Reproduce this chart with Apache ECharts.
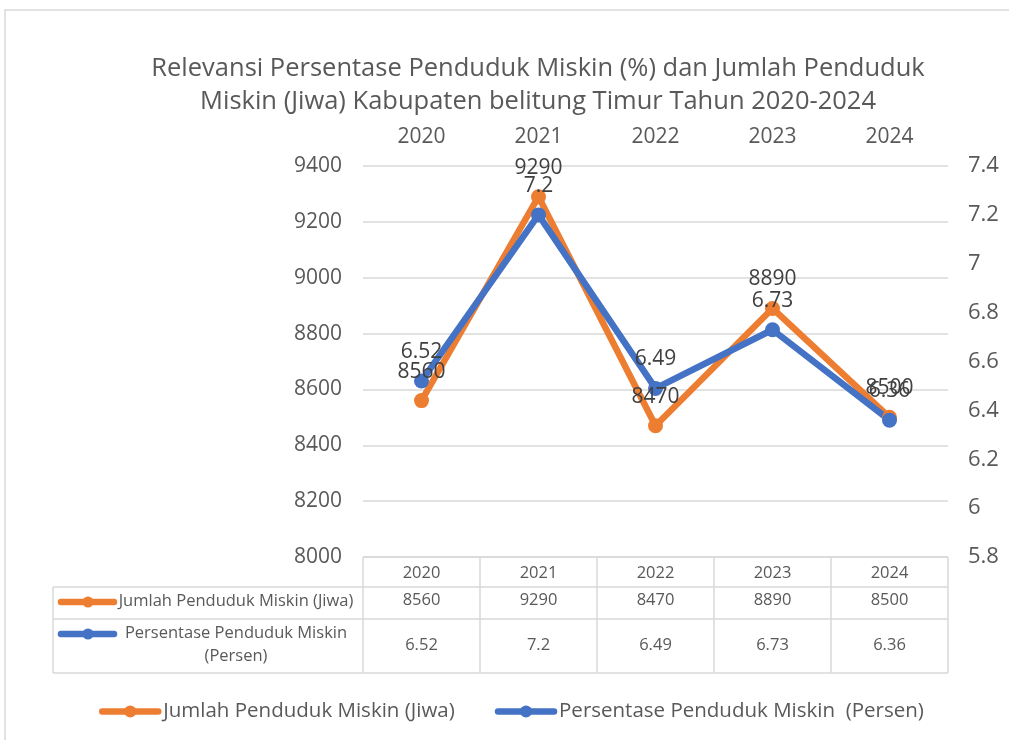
<!DOCTYPE html>
<html>
<head>
<meta charset="utf-8">
<script src="https://cdn.jsdelivr.net/npm/echarts@6/dist/echarts.min.js"></script>
<style>
  html, body { margin: 0; padding: 0; background: #fff; }
  #chart { width: 1009px; height: 740px; }
</style>
</head>
<body>
<div id="chart"></div>
<script>
// data
const years = ['2020', '2021', '2022', '2023', '2024'];
const jumlah = [8560, 9290, 8470, 8890, 8500];
const persen = [6.52, 7.2, 6.49, 6.73, 6.36];
const jumlahName = 'Jumlah Penduduk Miskin (Jiwa)';
const persenName = 'Persentase Penduduk Miskin  (Persen)';
const persenRowLabel = 'Persentase Penduduk Miskin\n(Persen)';

const ORANGE = '#ED7D31';
const BLUE = '#4472C4';
const GRID_C = '#d9d9d9';
const TXT = '#595959';
const FONT = 'Open Sans';

// table layout (px)
const tblLeft = 53, tblRight = 948, plotLeft = 363;
const rowY = [557, 587, 619, 673];

let chart = echarts.init(document.getElementById('chart'));

// row header (marker + name) for the data table
function rowHeader(color, y, text, textY) {
  return [
    { type: 'line', shape: { x1: 61, y1: y, x2: 114, y2: y },
      style: { stroke: color, lineWidth: 6.5, lineCap: 'round' } },
    { type: 'circle', shape: { cx: 88, cy: y, r: 5.5 }, style: { fill: color } },
    { type: 'text', x: 236, y: textY,
      style: { text: text, fill: TXT, font: '16.5px "' + FONT + '"', align: 'center', verticalAlign: 'top', lineHeight: 23 } }
  ];
}

let graphics = [
  { type: 'rect', shape: { x: 5, y: 10, width: 1020, height: 760 },
    style: { fill: null, stroke: GRID_C, lineWidth: 1.5 }, silent: true }
];
// horizontal table borders
rowY.forEach((y, i) => {
  graphics.push({ type: 'line', shape: { x1: i === 0 ? plotLeft : tblLeft, y1: y, x2: tblRight, y2: y },
    style: { stroke: GRID_C, lineWidth: 1.5 } });
});
graphics.push({ type: 'line', shape: { x1: tblLeft, y1: rowY[1], x2: tblLeft, y2: rowY[3] },
  style: { stroke: GRID_C, lineWidth: 1.5 } });
graphics = graphics.concat(rowHeader(ORANGE, 602, jumlahName, 590));
graphics = graphics.concat(rowHeader(BLUE, 634, persenRowLabel, 622));

let labelStyle = { show: true, position: 'top', distance: 11, color: '#404040', fontSize: 21, fontFamily: FONT };

let option = {
  animation: false,
  textStyle: { fontFamily: FONT },
  title: {
    text: 'Relevansi Persentase Penduduk Miskin (%) dan Jumlah Penduduk\nMiskin (Jiwa) Kabupaten belitung Timur Tahun 2020-2024',
    left: 533,
    top: 47,
    textAlign: 'center',
    textStyle: { fontSize: 25.5, fontWeight: 'normal', color: TXT, fontFamily: FONT, lineHeight: 33 }
  },
  legend: {
    left: 94,
    top: 696,
    itemWidth: 56,
    itemHeight: 15,
    itemGap: 40,
    lineStyle: { width: 6.5, cap: 'round' },
    textStyle: { fontSize: 20.5, color: TXT, fontFamily: FONT },
    data: [jumlahName, persenName]
  },
  grid: { left: plotLeft, right: 1009 - tblRight, top: 166, bottom: 740 - 557 },
  xAxis: [
    {
      type: 'category', position: 'top', data: years,
      axisLine: { show: false }, axisTick: { show: false },
      axisLabel: { fontSize: 21, color: TXT, margin: 18 }
    },
    {
      type: 'category', position: 'bottom', data: years,
      axisLine: { show: false },
      axisTick: { show: true, length: rowY[3] - rowY[0], lineStyle: { color: GRID_C, width: 1.5 } },
      axisLabel: { fontSize: 16.5, color: TXT, margin: 8 }
    },
    {
      type: 'category', position: 'bottom', offset: rowY[1] - rowY[0], data: years,
      axisLine: { show: false }, axisTick: { show: false },
      axisLabel: { fontSize: 16.5, color: TXT, margin: 5, formatter: (v, i) => String(jumlah[i]) }
    },
    {
      type: 'category', position: 'bottom', offset: rowY[2] - rowY[0], data: years,
      axisLine: { show: false }, axisTick: { show: false },
      axisLabel: { fontSize: 16.5, color: TXT, margin: 18, formatter: (v, i) => String(persen[i]) }
    }
  ],
  yAxis: [
    {
      type: 'value', min: 8000, max: 9400, interval: 200, position: 'left',
      axisLine: { show: false }, axisTick: { show: false },
      splitLine: { lineStyle: { color: GRID_C, width: 1.5 } },
      axisLabel: { fontSize: 21, color: TXT, margin: 21, formatter: v => String(v) }
    },
    {
      type: 'value', min: 5.8, max: 7.4, interval: 0.2, position: 'right',
      axisLine: { show: false }, axisTick: { show: false },
      splitLine: { show: false },
      axisLabel: { fontSize: 22, color: TXT, margin: 20, formatter: v => String(+v.toFixed(1)) }
    }
  ],
  series: [
    {
      name: jumlahName, type: 'line', xAxisIndex: 0, yAxisIndex: 0,
      data: jumlah, symbol: 'circle', symbolSize: 15,
      itemStyle: { color: ORANGE }, lineStyle: { color: ORANGE, width: 6.5 },
      label: labelStyle
    },
    {
      name: persenName, type: 'line', xAxisIndex: 0, yAxisIndex: 1,
      data: persen, symbol: 'circle', symbolSize: 15,
      itemStyle: { color: BLUE }, lineStyle: { color: BLUE, width: 6.5 },
      label: labelStyle
    }
  ],
  graphic: graphics
};

chart.setOption(option);
</script>
</body>
</html>
